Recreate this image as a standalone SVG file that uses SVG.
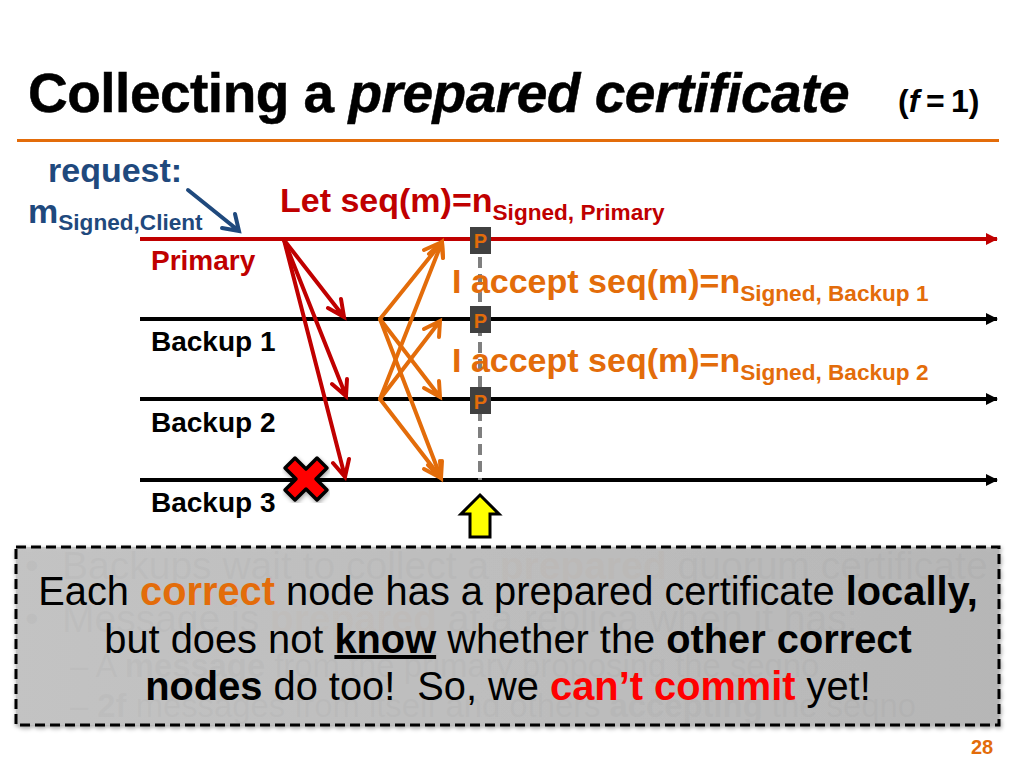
<svg xmlns="http://www.w3.org/2000/svg" width="1024" height="768" viewBox="0 0 1024 768">
<defs>
<style>
text{font-family:"Liberation Sans",Arial,sans-serif}
.b{font-weight:bold}
.lbl{font-size:34px;font-weight:bold}
.sub{font-size:22.600px;font-weight:bold}
.name{font-size:28px;font-weight:bold;fill:#000}
.org{fill:#e36c0a}
.p{font-size:20px;font-weight:bold;fill:#e36c0a;text-anchor:middle}
.pb{fill:#404040}
.line{stroke-width:4;fill:none}
.red{stroke:#c00000;stroke-width:4;fill:none;stroke-linecap:round}
.or{stroke:#e36c0a;stroke-width:4;fill:none;stroke-linecap:round}
.t{font-size:39.800px;fill:#000;white-space:pre}
.f{font-size:39px;fill:#000}
.g{font-size:32.800px;fill:#000}
</style>
<marker id="endk" markerUnits="userSpaceOnUse" markerWidth="12" markerHeight="14" refX="11" refY="6" orient="auto"><path d="M0 0L12 6L0 12z" fill="#000"/></marker>
<marker id="endr" markerUnits="userSpaceOnUse" markerWidth="12" markerHeight="14" refX="11" refY="6" orient="auto"><path d="M0 0L12 6L0 12z" fill="#c00000"/></marker>
<filter id="sh" x="-5%" y="-5%" width="110%" height="110%"><feDropShadow dx="1" dy="2" stdDeviation="2" flood-color="#000" flood-opacity=".35"/></filter>
<linearGradient id="bx" x1="0" x2="1" y1="0" y2="0"><stop offset="0" stop-color="#c3c3c3"/><stop offset="1" stop-color="#b6b6b6"/></linearGradient>
</defs>
<rect width="1024" height="768" fill="#fff"/>
<g id="title">
<text x="28" y="112" font-size="55" class="b" letter-spacing="-.5" stroke="#000" stroke-width=".5">Collecting a <tspan font-style="italic">prepared certificate</tspan></text>
<text x="898" y="112" font-size="32" class="b">(<tspan font-style="italic">f</tspan><tspan x="926">=</tspan><tspan x="951">1)</tspan></text>
<rect x="17" y="139" width="982" height="3" fill="#e36c0a"/>
</g>
<g id="request" fill="#1f497d">
<text x="48" y="182" font-size="34" class="b">request:</text>
<text x="28" y="223" font-size="34" class="b">m<tspan font-size="22.600" dy="7">Signed,Client</tspan></text>
</g>
<g id="connectors">
<path class="line" d="M140 239H997" stroke="#c00000" marker-end="url(#endr)"/>
<path class="line" d="M140 319H997" stroke="#000" marker-end="url(#endk)"/>
<path class="line" d="M140 399H997" stroke="#000" marker-end="url(#endk)"/>
<path class="line" d="M140 480H997" stroke="#000" marker-end="url(#endk)"/>
<path d="M188 190L239 231M222 228L239 231L235 214" fill="none" stroke="#1f497d" stroke-width="4" stroke-linecap="round"/>
<path class="red" d="M284 240L344 317M328 308L344 317L341 299"/>
<path class="red" d="M284 240L346 396M332 384L346 396L347 379"/>
<path class="red" d="M284 240L345 477M333 463L345 477L349 459"/>
<path class="or" d="M380 319L442 242M424 250L442 242L443 258"/>
<path class="or" d="M380 319L440 397M424 388L440 397L439 381"/>
<path class="or" d="M380 319L441 478M428 465L441 478L442 461"/>
<path class="or" d="M380 399L442 242M429 254L442 242L443 258"/>
<path class="or" d="M380 399L440 321M424 329L440 321L439 337"/>
<path class="or" d="M380 399L441 478M424 469L441 478L440 461"/>
<path d="M480 240V480" stroke="#7f7f7f" stroke-width="4" stroke-dasharray="11 6" fill="none"/>
</g>
<g id="labels">
<text x="280" y="212" class="lbl" fill="#c00000">Let seq(m)=n<tspan class="sub" dy="8">Signed, Primary</tspan></text>
<text x="151" y="270" class="name" style="fill:#c00000">Primary</text>
<text x="151" y="351" class="name">Backup 1</text>
<text x="151" y="432" class="name">Backup 2</text>
<text x="151" y="512" class="name">Backup 3</text>
<text x="452" y="293" class="lbl org">I accept seq(m)=n<tspan class="sub" dy="8">Signed, Backup 1</tspan></text>
<text x="452" y="372" class="lbl org">I accept seq(m)=n<tspan class="sub" dy="8">Signed, Backup 2</tspan></text>
</g>
<g id="p1"><rect class="pb" x="470" y="227" width="21" height="27"/><text class="p" x="480.500" y="248">P</text></g>
<g id="p2"><rect class="pb" x="470" y="306" width="21" height="27"/><text class="p" x="480.500" y="328">P</text></g>
<g id="p3"><rect class="pb" x="470" y="387" width="21" height="27"/><text class="p" x="480.500" y="409">P</text></g>
<g id="crash"><path d="M285 468L295 458L306 469L317 458L327 468L316 479L327 490L317 500L306 489L295 500L285 490L296 479z" fill="#f00" stroke="#000" stroke-width="3.500" stroke-linejoin="round" filter="url(#sh)"/></g>
<g id="up"><path d="M480 495L499 514H490V537H470V514H461z" fill="#ff0" stroke="#000" stroke-width="3"/></g>
<g id="faint">
<text class="f" x="25" y="579">•</text><text class="f" x="62" y="579">Backups wait to collect a <tspan class="b org">prepared</tspan> quorum certificate</text>
<text class="f" x="25" y="632">•</text><text class="f" x="62" y="632">Message is <tspan class="b org">prepared</tspan> at a replica when it has:</text>
<text class="g" x="70" y="677">– A <tspan class="b">message</tspan> from the primary proposing the seqno</text>
<text class="g" x="70" y="717">– <tspan class="b">2f</tspan> messages from itself and others <tspan class="b">accepting</tspan> the seqno</text>
</g>
<g id="callout">
<rect x="16" y="547" width="983" height="178" fill="url(#bx)" fill-opacity=".97" stroke="#000" stroke-width="3" stroke-dasharray="10 5" filter="url(#sh)"/>
<text class="t" x="508" y="605" text-anchor="middle">Each <tspan class="b org">correct</tspan> node has a prepared certificate <tspan class="b">locally,</tspan></text>
<text class="t" x="508" y="653" text-anchor="middle">but does not <tspan class="b" text-decoration="underline">know</tspan> whether the <tspan class="b">other correct</tspan></text>
<text class="t" x="508" y="700" text-anchor="middle"><tspan class="b">nodes</tspan> do too!  So, we <tspan class="b" fill="#f00">can’t commit</tspan> yet!</text>
</g>
<text id="page" x="971" y="754" font-size="20" class="b org">28</text>
</svg>
